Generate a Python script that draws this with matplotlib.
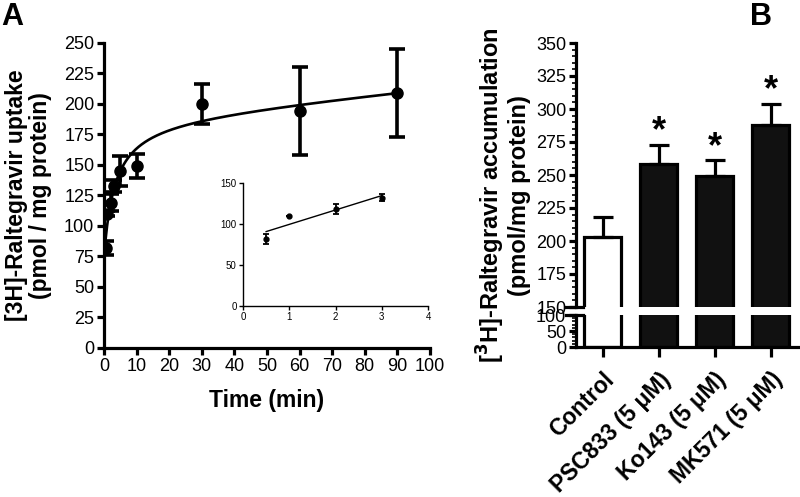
import numpy as np
import matplotlib
matplotlib.use('Agg')
import matplotlib.pyplot as plt
import matplotlib.transforms as mtransforms
from matplotlib.ticker import MultipleLocator

plt.rcParams['font.family'] = ['Liberation Sans', 'DejaVu Sans']

# panel A: time course
time_min = [0.5, 1, 2, 3, 5, 10, 30, 60, 90]
uptake = [82, 110, 119, 133, 145, 149, 200, 194, 209]
uptake_sem = [6, 2, 7, 5, 12, 10, 16, 36, 36]

# inset (first 3 min)
inset_time = [0.5, 1, 2, 3]
inset_uptake = [82, 110, 118, 132]
inset_sem = [6, 0, 6, 4]

# panel B: accumulation with inhibitors
groups = ['Control', 'PSC833 (5 μM)', 'Ko143 (5 μM)', 'MK571 (5 μM)']
accum = [203, 258, 249, 288]
accum_sem = [15, 15, 12, 16]
signif = [False, True, True, True]

LW = 2.3

fig = plt.figure(figsize=(8, 4.97), dpi=100)

# ---- A ----
ax = fig.add_axes([0.13, 0.2998, 0.4075, 0.6137])
x = np.array(time_min, float)
y = np.array(uptake, float)
# fit y = a + b*x/(K+x) + s*x (grid over K, linear lsq for the rest)
best = None
for K in np.linspace(0.2, 20, 400):
    A = np.column_stack([np.ones_like(x), x / (K + x), x])
    coef, res, _, _ = np.linalg.lstsq(A, y, rcond=None)
    r = np.sum((A @ coef - y) ** 2)
    if best is None or r < best[0]:
        best = (r, K, coef)
_, K, coef = best
xf = np.linspace(0.5, 90, 400)
yf = coef[0] + coef[1] * xf / (K + xf) + coef[2] * xf
ax.plot(xf, yf, color='black', lw=1.9, zorder=2)
ax.errorbar(time_min, uptake, yerr=uptake_sem, fmt='o', color='black',
            ms=8, elinewidth=2.6, capsize=5.5, capthick=2.6, zorder=3)
ax.set_xlim(0, 100)
ax.set_ylim(0, 250)
ax.xaxis.set_major_locator(MultipleLocator(10))
ax.yaxis.set_major_locator(MultipleLocator(25))
for s in ['top', 'right']:
    ax.spines[s].set_visible(False)
for s in ['left', 'bottom']:
    ax.spines[s].set_linewidth(LW)
ax.tick_params(width=LW, length=5, labelsize=13, pad=2)
ax.set_xlabel('Time (min)', fontsize=16.5, fontweight='bold', labelpad=10)
ax.set_ylabel('[3H]-Raltegravir uptake\n(pmol / mg protein)', fontsize=16.5,
              fontweight='bold', labelpad=9, linespacing=1.05)

# inset
axi = fig.add_axes([243 / 800, 1 - 306 / 497, 185 / 800, 123 / 497])
xi = np.array(inset_time, float)
p = np.polyfit(xi, inset_uptake, 1)
xl = np.array([0.5, 3.0])
axi.plot(xl, np.polyval(p, xl), color='black', lw=1)
axi.errorbar(inset_time, inset_uptake, yerr=inset_sem, fmt='o', color='black',
             ms=3.5, elinewidth=1.3, capsize=2.5, capthick=1.3)
axi.set_xlim(0, 4)
axi.set_ylim(0, 150)
axi.xaxis.set_major_locator(MultipleLocator(1))
axi.yaxis.set_major_locator(MultipleLocator(50))
for s in ['top', 'right']:
    axi.spines[s].set_visible(False)
for s in ['left', 'bottom']:
    axi.spines[s].set_linewidth(1.0)
axi.tick_params(width=1.0, length=3, labelsize=7, pad=1.5)
axi.patch.set_alpha(0)

# ---- B ----
left_b = 576 / 800
top_ax = fig.add_axes([left_b, 1 - 307 / 497, 1 - left_b, 264 / 497])
bot_ax = fig.add_axes([left_b, 1 - 347 / 497, 1 - left_b, 32 / 497])
pos = np.arange(len(groups))
colors = ['white', '#111111', '#111111', '#111111']
for a in (top_ax, bot_ax):
    a.bar(pos, accum, width=0.66, color=colors, edgecolor='black', linewidth=LW)
    a.set_xlim(-0.48, 3.52)
    a.spines['right'].set_visible(False)
    a.spines['top'].set_visible(False)
    a.spines['left'].set_linewidth(LW)
    a.spines['bottom'].set_linewidth(LW)
    a.tick_params(width=LW, length=5, labelsize=13, pad=2)
    a.tick_params(which='minor', width=1.2, length=3)
    a.patch.set_alpha(0)

top_ax.errorbar(pos, accum, yerr=[np.zeros(len(accum)), accum_sem], fmt='none',
                ecolor='black', elinewidth=LW, capsize=7, capthick=LW)
top_ax.set_ylim(150, 350)
top_ax.yaxis.set_major_locator(MultipleLocator(25))
top_ax.yaxis.set_minor_locator(MultipleLocator(5))
top_ax.spines['bottom'].set_visible(False)
top_ax.set_xticks([])
for i in range(len(groups)):
    if signif[i]:
        top_ax.text(pos[i], accum[i] + accum_sem[i] + 10, '*', ha='center',
                    va='center', fontsize=26, fontweight='bold')

bot_ax.set_ylim(0, 100)
bot_ax.yaxis.set_major_locator(MultipleLocator(50))
bot_ax.yaxis.set_minor_locator(MultipleLocator(10))
bot_ax.set_xticks(pos)
bot_ax.set_xticklabels(groups, rotation=45, ha='right', rotation_mode='anchor',
                       fontsize=16.5, fontweight='bold')
bot_ax.tick_params(axis='x', length=7, pad=8)

# break marks on the y axis
for a, yv in ((top_ax, 150), (bot_ax, 100)):
    tr = mtransforms.blended_transform_factory(a.transAxes, a.transData)
    a.plot([-0.045, 0.03], [yv, yv], transform=tr, color='black', lw=LW,
           clip_on=False)

fig.text(0.629, 0.607, '[$^\\mathbf{3}$H]-Raltegravir accumulation\n(pmol/mg protein)',
         rotation=90, ha='center', va='center', fontsize=17, fontweight='bold',
         linespacing=1.05)

fig.text(0.002, 0.995, 'A', fontsize=22, fontweight='bold', va='top')
fig.text(0.937, 0.995, 'B', fontsize=22, fontweight='bold', va='top')

fig.savefig('out.png', dpi=100)
